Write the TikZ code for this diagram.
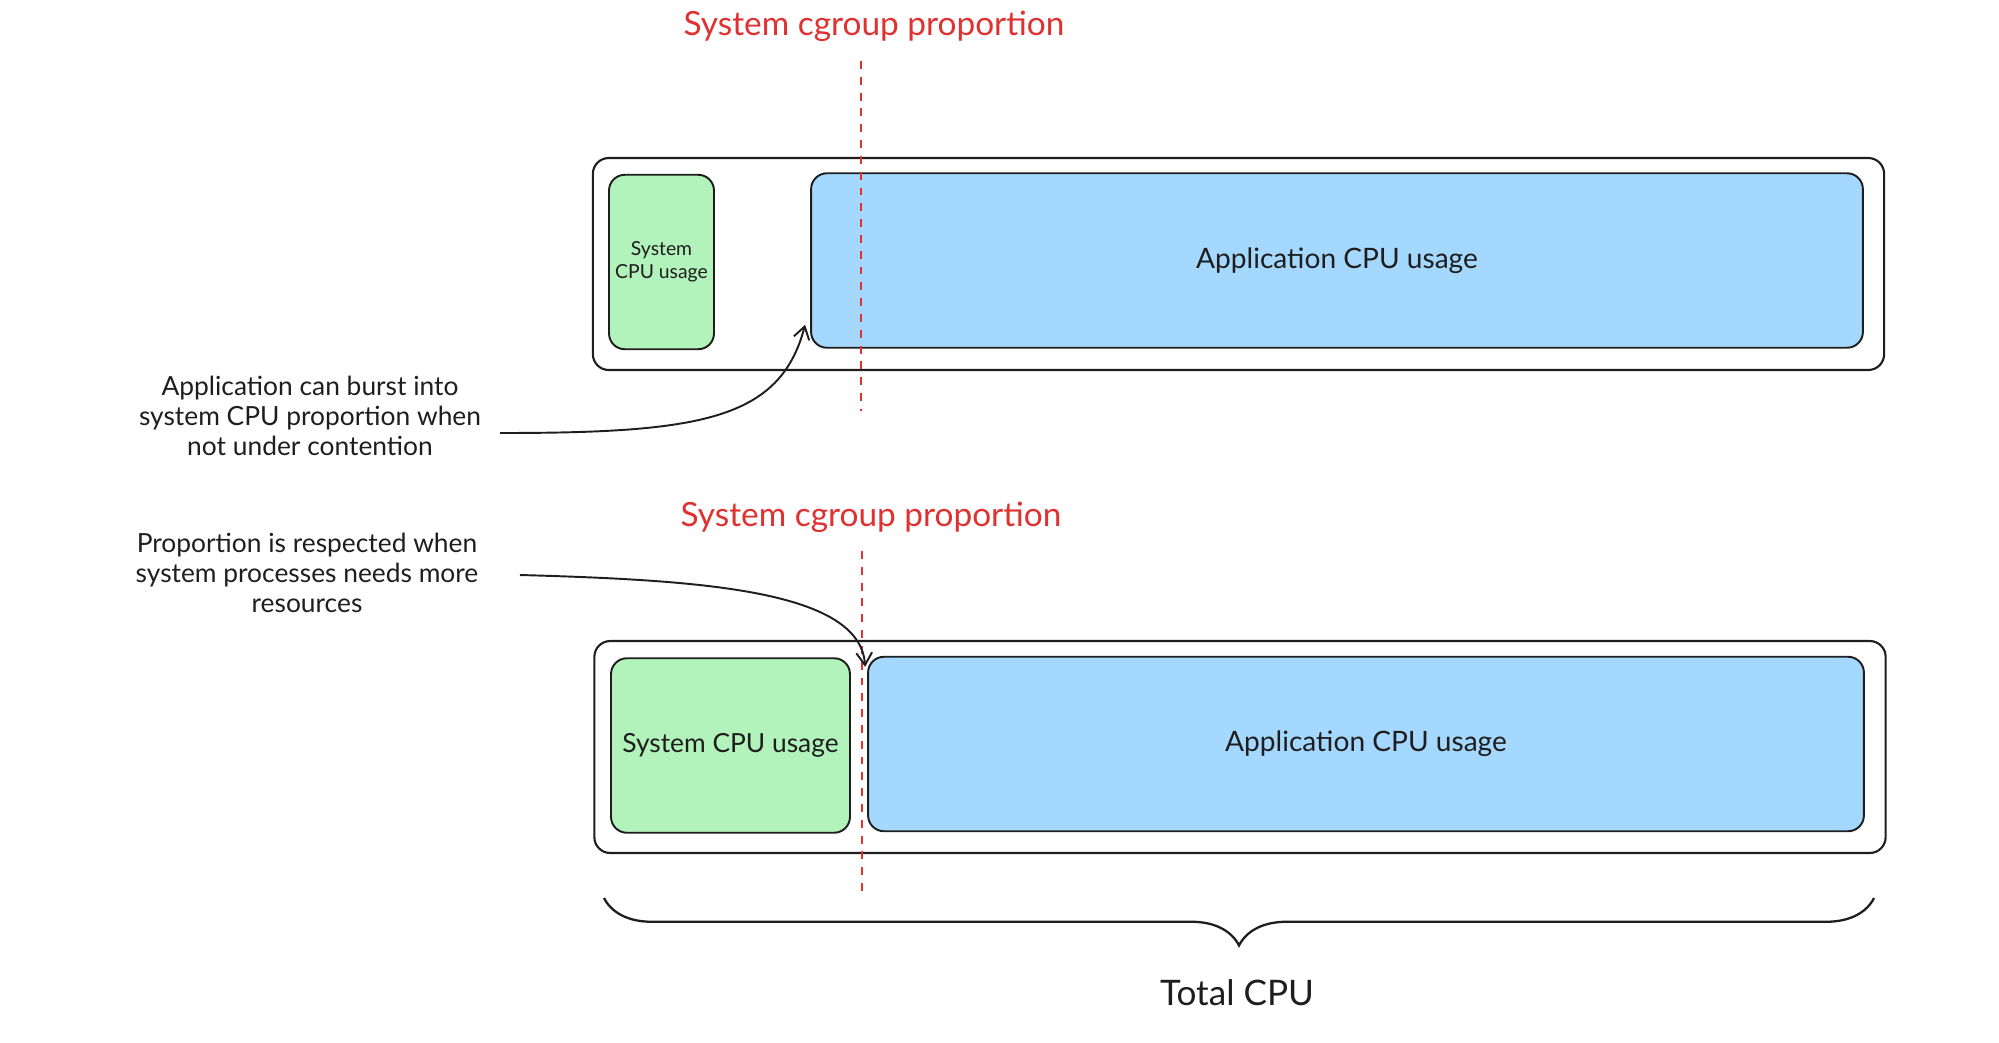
\documentclass[tikz,border=0pt]{standalone}
\usepackage{fontspec}
\setmainfont{Lato}
\usetikzlibrary{arrows.meta,positioning,decorations.pathreplacing}
\usepackage{xcolor}
\definecolor{inkdark}{HTML}{1E1E1E}
\definecolor{sysgreen}{HTML}{B2F2BB}
\definecolor{appblue}{HTML}{A5D8FF}
\definecolor{cutred}{HTML}{E03131}

\begin{document}
\begin{tikzpicture}[
        x=0.02cm, y=-0.02cm,
        framebox/.style={rectangle, rounded corners=9pt, draw=inkdark, line width=1.2pt, inner sep=0pt, minimum width=25.83cm, minimum height=4.24cm},
        sysbox/.style={rectangle, rounded corners=9pt, draw=inkdark, fill=sysgreen, line width=1.1pt, inner sep=0pt, align=center, text=inkdark, minimum height=3.49cm},
        appbox/.style={rectangle, rounded corners=9pt, draw=inkdark, fill=appblue, line width=1.1pt, inner sep=0pt, align=center, text=inkdark, minimum height=3.49cm, font=\fontsize{16}{19}\selectfont},
        proplabel/.style={text=cutred, font=\fontsize{19}{22}\selectfont},
        note/.style={align=center, text=inkdark, font=\fontsize{15}{17}\selectfont},
        cut/.style={cutred, line width=1pt, dash pattern=on 4.5pt off 4.5pt},
        arr/.style={-{Straight Barb[length=7pt, width=9pt]}, inkdark, line width=1.1pt},
        brace/.style={decorate, decoration={brace, mirror, amplitude=0.95cm}, inkdark, line width=1.3pt},
    ]
        \useasboundingbox (0,0) rectangle (1999,1042);

        % Upper bar: application bursts into the system share
        \node[framebox] (frameA) at (1238.5,264) {};
        \node[sysbox, minimum width=2.1cm, font=\fontsize{11}{13}\selectfont] (sysA) at (661.5,262) {System\\CPU usage};
        \node[appbox, minimum width=21.04cm] (appA) at (1337,260.5) {Application CPU usage};

        \node[proplabel] (propA) at (874,26) {System cgroup proportion};
        \coordinate (cutAtop) at (861,61);
        \coordinate (cutAbot) at (861,411);
        \draw[cut] (cutAtop) -- (cutAbot);

        \node[note] (noteA) at (310,416) {Application can burst into\\system CPU proportion when\\not under contention};
        \coordinate (burstfrom) at (500,433);
        \draw[arr] (burstfrom) .. controls (700,433) and (780,420) .. ([shift={(-5,-24)}]appA.south west);

        % Lower bar: proportion is respected
        \node[framebox] (frameB) at (1240,747) {};
        \node[sysbox, minimum width=4.78cm, font=\fontsize{15}{18}\selectfont] (sysB) at (730.5,745.5) {System CPU usage};
        \node[appbox, minimum width=19.92cm] (appB) at (1366,744) {Application CPU usage};

        \node[proplabel] (propB) at (871,517) {System cgroup proportion};
        \coordinate (cutBtop) at (862,551);
        \coordinate (cutBbot) at (862,896);
        \draw[cut] (cutBtop) -- (cutBbot);

        \node[note] (noteB) at (307,573) {Proportion is respected when\\system processes needs more\\resources};
        \coordinate (respectfrom) at (520,575);
        \draw[arr] (respectfrom) .. controls (700,580) and (860,590) .. ([shift={(-2,11)}]appB.north west);

        % Total
        \draw[brace] (604,898) -- (1874,898);
        \node[font=\fontsize{20}{24}\selectfont, text=inkdark] (total) at (1237,993) {Total CPU};
    \end{tikzpicture}
\end{document}
